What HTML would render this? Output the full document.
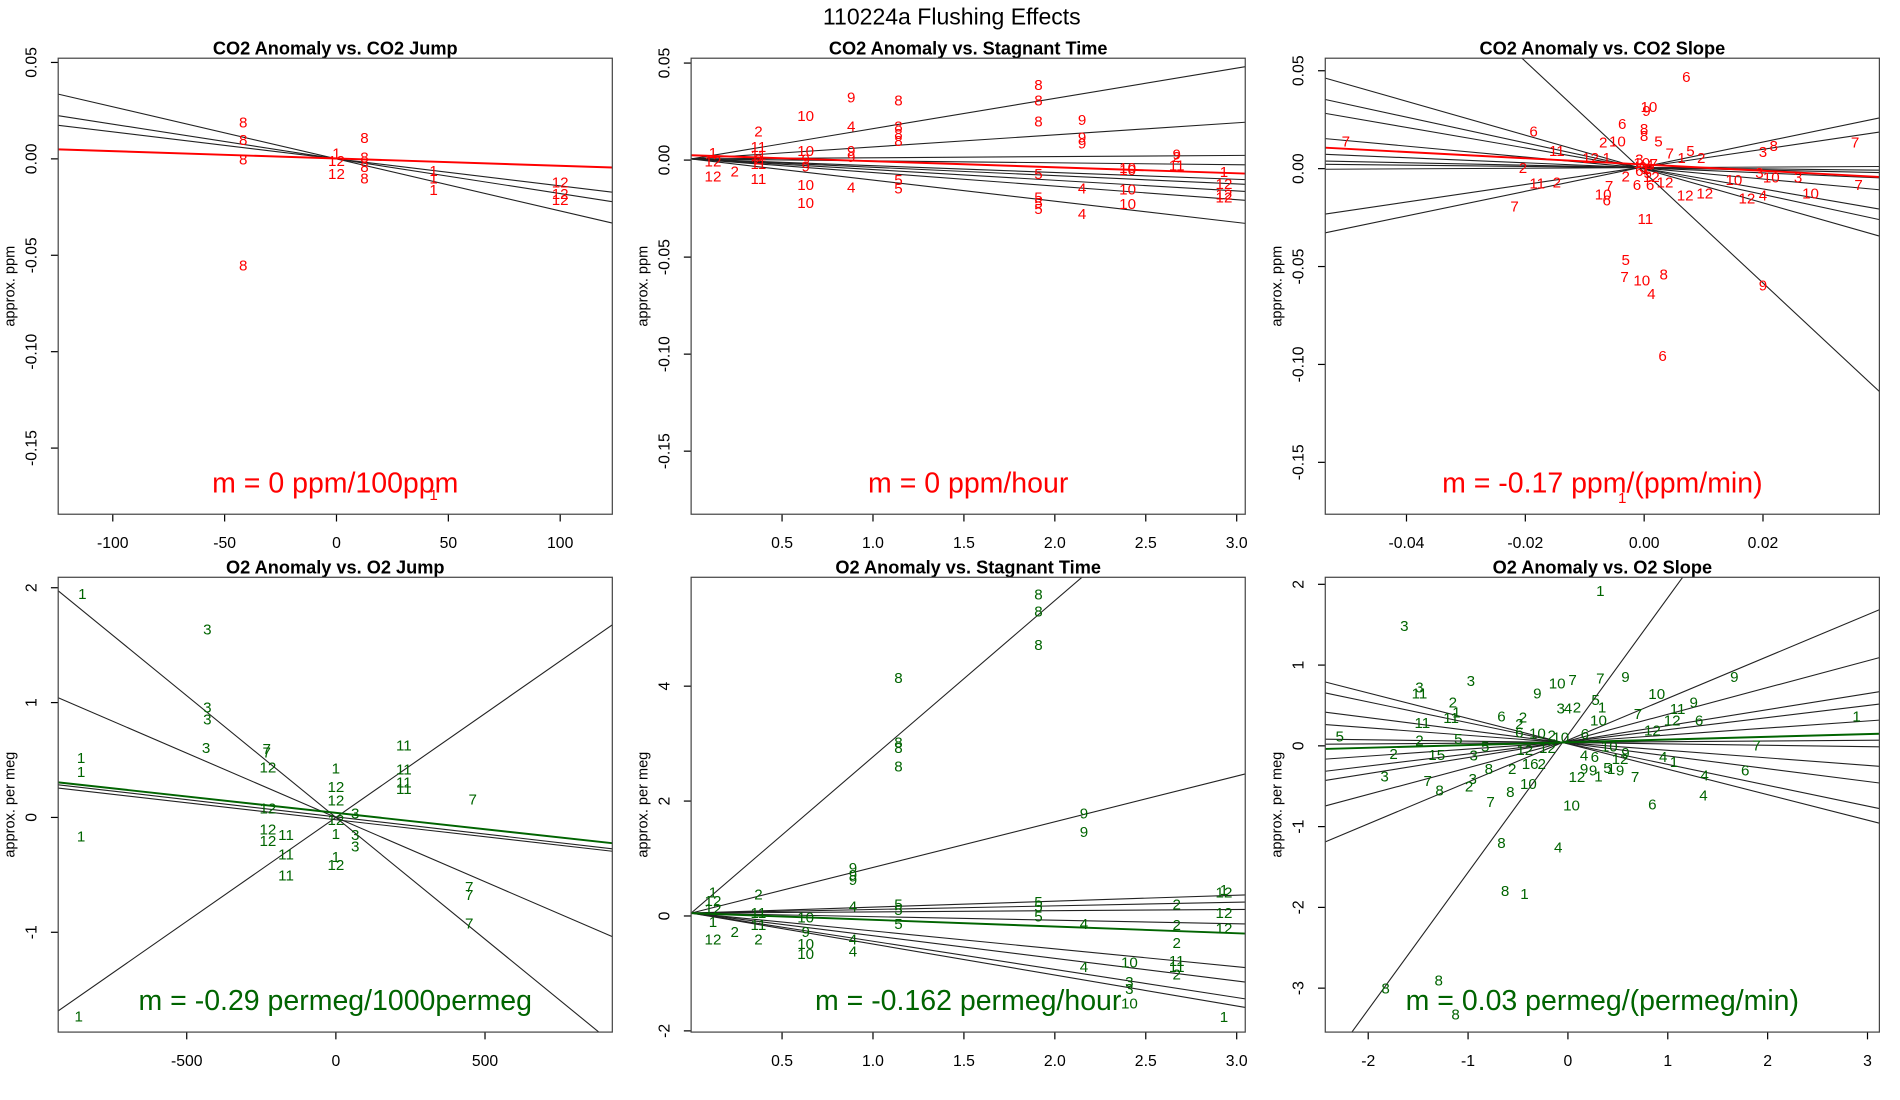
<!DOCTYPE html>
<html><head><meta charset="utf-8"><title>110224a Flushing Effects</title>
<style>
html,body{margin:0;padding:0;background:#fff;}
svg{display:block;font-family:"Liberation Sans",Arial,sans-serif;}
</style></head>
<body>
<svg id="fig" width="1900" height="1100" viewBox="0 0 1567 907" preserveAspectRatio="none" xmlns="http://www.w3.org/2000/svg">
<rect x="0" y="0" width="1567" height="907" fill="#fff"/>
<text x="785" y="20" text-anchor="middle" font-size="19">110224a   Flushing Effects</text>
</svg>
<script>
// ---------- Panel 1: CO2 Anomaly vs CO2 Jump ----------
const p1Labels=["8","8","8","8","8","1","12","12","8","8","8","1","1","1","12","12","12","1"];
const p1X=[-41.7,-41.7,-41.7,-41.7,12.5,0,0,0,12.5,12.5,12.5,43.4,43.4,43.4,100,100,100,43.4];
const p1Y=[0.019,0.010,0.0,-0.055,0.011,0.003,-0.001,-0.0075,0.001,-0.004,-0.010,-0.006,-0.010,-0.016,-0.012,-0.018,-0.021,-0.174];
const p1Slopes=[-0.00027,-0.00018,-0.00014];
const p1Intercepts=[0,0,0];
const p1FitSlope=[-0.000038];
const p1FitIntercept=[0.0002];
const p1XTicks=[-100,-50,0,50,100];
const p1YTicks=[0.05,0,-0.05,-0.10,-0.15];
const p1YTickLabels=["0.05","0.00","-0.05","-0.10","-0.15"];

// ---------- Panel 2: CO2 Anomaly vs Stagnant Time ----------
const p2Labels=["1","12","12","2","2","11","11","2","11","11","10","10","9","9","10","10","9","4","9","9","4","8","8","8","8","5","5","8","8","8","5","5","5","5","9","9","9","4","4","10","10","10","10","9","2","11","1","12","12","12"];
const p2X=[0.12,0.12,0.12,0.24,0.37,0.37,0.37,0.37,0.37,0.37,0.63,0.63,0.63,0.63,0.63,0.63,0.88,0.88,0.88,0.88,0.88,1.14,1.14,1.14,1.14,1.14,1.14,1.91,1.91,1.91,1.91,1.91,1.91,1.91,2.15,2.15,2.15,2.15,2.15,2.4,2.4,2.4,2.4,2.67,2.67,2.67,2.93,2.93,2.93,2.93];
const p2Y=[0.0038,-0.0006,-0.0081,-0.0056,0.015,0.0069,0.0025,0.0006,-0.0019,-0.0094,0.023,0.005,0.0006,-0.003,-0.0125,-0.022,0.0325,0.0175,0.005,0.0019,-0.0138,0.031,0.0175,0.0138,0.01,-0.01,-0.0144,0.039,0.031,0.02,-0.0069,-0.019,-0.022,-0.025,0.021,0.012,0.0088,-0.0144,-0.0275,-0.0038,-0.005,-0.015,-0.0225,0.003,0.0019,-0.0025,-0.006,-0.012,-0.0175,-0.019];
const p2Slopes=[0.0156,0.0062,0.0006,-0.001,-0.0035,-0.0043,-0.0055,-0.007,-0.0109];
const p2Intercepts=[0.0006,0.0006,0.0006,0.0006,0.0006,0.0006,0.0006,0.0006,0.0006];
const p2FitSlope=[-0.0031];
const p2FitIntercept=[0.0025];
const p2XTicks=[0.5,1.0,1.5,2.0,2.5,3.0];
const p2XTickLabels=["0.5","1.0","1.5","2.0","2.5","3.0"];

// ---------- Panel 3: CO2 Anomaly vs CO2 Slope ----------
const p3Labels=["6","10","9","6","6","8","5","2","10","11","5","7","1","2","3","8","7","7","2","3","10","3","10","12","1","3","7","2","6","6","12","12","12","12","4","10","7","11","2","7","10","6","7","11","5","7","10","8","4","9","6","1","8","9","5","10","12","1","6","4"];
const p3X=[0.0071,0.0008,0.0004,-0.0037,-0.0186,0,0.0024,-0.0069,-0.0045,-0.0147,0.0078,0.0043,0.0063,0.0096,0.02,0.0218,0.0355,-0.0502,-0.0204,0.0194,0.0214,0.0259,0.0151,-0.009,-0.0063,-0.0008,0.0016,-0.0031,-0.0012,0.001,0.0035,0.0069,0.0102,0.0173,0.02,0.028,0.0361,-0.018,-0.0147,-0.0059,-0.0069,-0.0063,-0.0218,0.0002,-0.0031,-0.0033,-0.0004,0.0033,0.0012,0.02,0.0031,-0.0037,0.0,-0.0002,0.0006,-0.0004,0.0012,0.0003,-0.0008,0.0009];
const p3Y=[0.047,0.0316,0.0297,0.0229,0.0192,0.0204,0.0142,0.0136,0.0142,0.0093,0.0093,0.008,0.0056,0.0056,0.0087,0.0118,0.0136,0.0142,0.0006,-0.0019,-0.0043,-0.0043,-0.0056,0.0056,0.0056,0.005,0.0025,-0.0037,-0.008,-0.008,-0.0068,-0.0136,-0.0124,-0.0149,-0.0136,-0.0124,-0.008,-0.0074,-0.0068,-0.0087,-0.013,-0.0161,-0.0192,-0.0254,-0.0464,-0.0551,-0.057,-0.0539,-0.0638,-0.0594,-0.0954,-0.168,0.017,0.001,-0.002,0.003,-0.004,0.0,-0.001,0.002];
const p3Slopes=[-0.865,-0.658,-0.524,-0.280,-0.129,-0.063,-0.032,0.015,0.449,0.629,-2.83];
const p3Intercepts=[-0.0002,0.0,0.0001,0.0003,0.0004,0.0005,0.0005,0.0005,0.0009,0.001,-0.0018];
const p3FitSlope=[-0.16];
const p3FitIntercept=[0.0021];
const p3XTicks=[-0.04,-0.02,0,0.02];
const p3XTickLabels=["-0.04","-0.02","0.00","0.02"];

// ---------- Panel 4: O2 Anomaly vs O2 Jump ----------
const p4Labels=["1","3","3","3","3","1","1","1","1","7","7","12","12","12","12","11","11","11","1","12","12","12","1","3","3","3","1","12","11","11","11","11","7","7","7","7"];
const p4X=[-850,-431,-431,-431,-435,-854,-854,-854,-862,-232,-232,-228,-228,-228,-228,-167,-167,-167,0,0,0,0,0,65,65,65,0,0,228,228,228,228,459,447,447,447];
const p4Y=[1.95,1.64,0.96,0.855,0.61,0.52,0.40,-0.16,-1.73,0.60,0.57,0.44,0.08,-0.10,-0.20,-0.15,-0.32,-0.50,0.43,0.27,0.15,-0.02,-0.14,0.04,-0.15,-0.25,-0.34,-0.41,0.63,0.42,0.31,0.25,0.16,-0.60,-0.67,-0.92];
const p4Slopes=[-0.00212,-0.00112,0.00181,-0.0003,-0.000296];
const p4Intercepts=[0,0,0,0.005,-0.02];
const p4FitSlope=[-0.000285];
const p4FitIntercept=[0.04];
const p4XTicks=[-500,0,500];
const p4YTicks=[2,1,0,-1];

// ---------- Panel 5: O2 Anomaly vs Stagnant Time ----------
const p5Labels=["8","8","8","8","8","8","8","9","9","9","4","2","1","12","12","5","5","5","5","5","5","9","9","4","2","2","2","1","12","12","12","10","9","10","10","4","4","11","11","2","2","12","1","4","10","3","3","10","11","11","2","1"];
const p5X=[1.91,1.91,1.91,1.14,1.14,1.14,1.14,0.89,0.89,0.89,0.89,0.37,0.12,0.12,0.12,1.14,1.14,1.14,1.91,1.91,1.91,2.16,2.16,2.16,2.67,2.67,2.67,2.93,2.93,2.93,2.93,0.63,0.63,0.63,0.63,0.89,0.89,0.37,0.37,0.37,0.24,0.12,0.12,2.16,2.41,2.41,2.41,2.41,2.67,2.67,2.67,2.93];
const p5Y=[5.6,5.31,4.72,4.15,3.03,2.93,2.61,0.84,0.72,0.63,0.17,0.38,0.42,0.27,0.13,0.21,0.11,-0.13,0.25,0.17,0,1.79,1.47,-0.13,0.21,-0.15,-0.46,0.46,0.42,0.06,-0.21,-0.02,-0.27,-0.48,-0.65,-0.4,-0.61,0.06,-0.15,-0.4,-0.27,-0.4,-0.1,-0.88,-0.8,-1.14,-1.26,-1.52,-0.78,-0.88,-1.01,-1.75];
const p5Slopes=[2.72,0.795,0.104,0.063,0.021,-0.062,-0.311,-0.394,-0.49,-0.539];
const p5Intercepts=[0.05,0.05,0.05,0.05,0.05,0.05,0.05,0.05,0.05,0.05];
const p5FitSlope=[-0.117];
const p5FitIntercept=[0.05];
const p5YTicks=[4,2,0,-2];

// ---------- Panel 6: O2 Anomaly vs O2 Slope ----------
const p6Labels=["1","3","3","11","3","9","10","7","7","9","2","1","11","11","6","2","2","3","4","2","5","1","10","10","7","11","9","12","6","12","9","1","5","2","5","6","10","2","10","6","5","12","12","10","9","2","15","3","4","6","12","4","1","7","8","2","16","2","9","9","1","5","1","9","3","7","8","2","3","8","10","12","7","4","6","7","10","6","4","8","4","8","1","8","8","8"];
const p6X=[0.324,-1.638,-1.487,-1.487,-0.972,-0.306,-0.108,0.047,0.324,0.576,-1.152,-1.116,-1.17,-1.458,-0.666,-0.45,-0.486,-0.072,0.0,0.09,0.277,0.342,0.306,0.889,0.702,1.098,1.26,1.044,1.314,0.846,1.667,2.891,-2.286,-1.487,-1.098,-0.486,-0.306,-0.162,-0.072,0.169,-0.828,-0.432,-0.205,0.414,0.576,-1.746,-1.314,-0.943,0.162,0.27,0.522,0.954,1.062,1.89,-0.792,-0.558,-0.378,-0.263,0.162,0.252,0.306,0.396,0.432,0.522,-1.836,-1.404,-1.285,-0.99,-0.954,-0.576,-0.396,0.09,0.673,1.368,1.775,-0.774,0.036,0.846,1.357,-0.665,-0.097,-0.629,-0.435,-1.826,-1.294,-1.125];
const p6Y=[1.92,1.488,0.728,0.654,0.81,0.654,0.777,0.818,0.839,0.859,0.543,0.419,0.35,0.288,0.366,0.358,0.276,0.469,0.469,0.481,0.572,0.481,0.317,0.646,0.399,0.461,0.543,0.317,0.317,0.193,0.859,0.366,0.119,0.07,0.091,0.173,0.161,0.132,0.111,0.152,-0.004,-0.045,-0.02,-0.004,-0.086,-0.094,-0.107,-0.115,-0.115,-0.135,-0.156,-0.135,-0.197,0.008,-0.279,-0.279,-0.218,-0.218,-0.279,-0.3,-0.374,-0.267,-0.279,-0.3,-0.374,-0.431,-0.546,-0.497,-0.403,-0.567,-0.464,-0.382,-0.382,-0.361,-0.3,-0.69,-0.731,-0.723,-0.608,-1.2,-1.25,-1.79,-1.83,-3.0,-2.9,-3.32];
const p6Slopes=[0.518,0.331,0.198,0.150,0.087,0.009,-0.017,-0.093,-0.158,-0.258,-0.315,1.70];
const p6Intercepts=[0.070,0.060,0.053,0.050,0.047,0.042,0.041,0.037,0.033,0.028,0.025,0.134];
const p6FitSlope=[0.034];
const p6FitIntercept=[0.044];
const p6XTicks=[-2,-1,0,1,2,3];
const p6YTicks=[2,1,0,-1,-2,-3];

const NS="http://www.w3.org/2000/svg";
const svg=document.getElementById('fig');
function mk(tag,attrs,parent){const e=document.createElementNS(NS,tag);for(const k in attrs)e.setAttribute(k,attrs[k]);(parent||svg).appendChild(e);return e;}

function panel(cfg){
  const g=mk('g',{});
  
  
  const L=cfg.box[0],R=cfg.box[1],T=cfg.box[2],B=cfg.box[3];
  const sx=v=>L+(v-cfg.xr[0])/(cfg.xr[1]-cfg.xr[0])*(R-L);
  const sy=v=>B-(v-cfg.yr[0])/(cfg.yr[1]-cfg.yr[0])*(B-T);
  const cid='clip-'+cfg.name;
  const cp=mk('clipPath',{id:cid},g);mk('rect',{x:L,y:T,width:R-L,height:B-T},cp);
  const tt=mk('text',{x:(L+R)/2,y:T-3,'text-anchor':'middle','font-size':15,'font-weight':'bold'},g);
  tt.textContent=cfg.title;
  
  
  const yl=mk('text',{transform:`translate(${L-36},${(T+B)/2}) rotate(-90)`,'text-anchor':'middle','font-size':12},g);
  yl.textContent=cfg.ylab;
  
  
  cfg.xt.forEach((v,i)=>{
    const x=sx(v);
    const tk=mk('line',{x1:x,x2:x,y1:B,y2:B+6,stroke:'#000','stroke-width':1},g);
    
    
    const t=mk('text',{x:x,y:B+28,'text-anchor':'middle','font-size':13},g);
    t.textContent=cfg.xtl?cfg.xtl[i]:String(v);
    
    
  });
  cfg.yt.forEach((v,i)=>{
    const y=sy(v);
    const tk=mk('line',{x1:L-6,x2:L,y1:y,y2:y,stroke:'#000','stroke-width':1},g);
    
    
    const t=mk('text',{transform:`translate(${L-18},${y}) rotate(-90)`,'text-anchor':'middle','font-size':13},g);
    t.textContent=cfg.ytl?cfg.ytl[i]:String(v);
    
    
  });
  const cg=mk('g',{'clip-path':`url(#${cid})`},g);
  cfg.slopes.forEach((m,i)=>{
    const a=cfg.ints[i];
    const ln=mk('line',{x1:sx(cfg.xr[0]),y1:sy(a+m*cfg.xr[0]),x2:sx(cfg.xr[1]),y2:sy(a+m*cfg.xr[1]),stroke:'#222','stroke-width':0.9},cg);
    
    
  });
  cfg.labels.forEach((lab,i)=>{
    const t=mk('text',{x:sx(cfg.xs[i]),y:sy(cfg.ys[i])+4.5,'text-anchor':'middle','font-size':12.5,fill:cfg.col},cg);
    t.textContent=lab;
    
    
  });
  cfg.fs.forEach((m,i)=>{
    const a=cfg.fi[i];
    const ln=mk('line',{x1:sx(cfg.xr[0]),y1:sy(a+m*cfg.xr[0]),x2:sx(cfg.xr[1]),y2:sy(a+m*cfg.xr[1]),stroke:cfg.col,'stroke-width':1.6},cg);
    
    
  });
  const mt=mk('text',{x:(L+R)/2,y:B-18,'text-anchor':'middle','font-size':23.5,fill:cfg.col},g);
  mt.textContent=cfg.mtext;
  
  
  const bx=mk('rect',{x:L,y:T,width:R-L,height:B-T,fill:'none',stroke:'#444','stroke-width':1},g);
  
  
}

const RED='#ff0000',GRN='#006400';
const r1=[48,424],r2=[476,851];
const c1=[48,505],c2=[570,1027],c3=[1093,1550];
panel({name:'co2-jump-panel',title:'CO2 Anomaly vs. CO2 Jump',ylab:'approx. ppm',box:[c1[0],c1[1],r1[0],r1[1]],
  xr:[-124.4,123.3],yr:[-0.1843,0.0522],xt:p1XTicks,yt:p1YTicks,ytl:p1YTickLabels,
  labels:p1Labels,xs:p1X,ys:p1Y,slopes:p1Slopes,ints:p1Intercepts,fs:p1FitSlope,fi:p1FitIntercept,col:RED,mtext:'m = 0 ppm/100ppm'});
panel({name:'co2-stagnant-panel',title:'CO2 Anomaly vs. Stagnant Time',ylab:'approx. ppm',box:[c2[0],c2[1],r1[0],r1[1]],
  xr:[0,3.047],yr:[-0.1825,0.0525],xt:p2XTicks,xtl:p2XTickLabels,yt:p1YTicks,ytl:p1YTickLabels,
  labels:p2Labels,xs:p2X,ys:p2Y,slopes:p2Slopes,ints:p2Intercepts,fs:p2FitSlope,fi:p2FitIntercept,col:RED,mtext:'m = 0 ppm/hour'});
panel({name:'co2-slope-panel',title:'CO2 Anomaly vs. CO2 Slope',ylab:'approx. ppm',box:[c3[0],c3[1],r1[0],r1[1]],
  xr:[-0.05367,0.03959],yr:[-0.1765,0.0564],xt:p3XTicks,xtl:p3XTickLabels,yt:p1YTicks,ytl:p1YTickLabels,
  labels:p3Labels,xs:p3X,ys:p3Y,slopes:p3Slopes,ints:p3Intercepts,fs:p3FitSlope,fi:p3FitIntercept,col:RED,mtext:'m = -0.17 ppm/(ppm/min)'});
panel({name:'o2-jump-panel',title:'O2 Anomaly vs. O2 Jump',ylab:'approx. per meg',box:[c1[0],c1[1],r2[0],r2[1]],
  xr:[-930.9,926.8],yr:[-1.869,2.091],xt:p4XTicks,yt:p4YTicks,
  labels:p4Labels,xs:p4X,ys:p4Y,slopes:p4Slopes,ints:p4Intercepts,fs:p4FitSlope,fi:p4FitIntercept,col:GRN,mtext:'m = -0.29 permeg/1000permeg'});
panel({name:'o2-stagnant-panel',title:'O2 Anomaly vs. Stagnant Time',ylab:'approx. per meg',box:[c2[0],c2[1],r2[0],r2[1]],
  xr:[0,3.047],yr:[-2.021,5.895],xt:p2XTicks,xtl:p2XTickLabels,yt:p5YTicks,
  labels:p5Labels,xs:p5X,ys:p5Y,slopes:p5Slopes,ints:p5Intercepts,fs:p5FitSlope,fi:p5FitIntercept,col:GRN,mtext:'m = -0.162 permeg/hour'});
panel({name:'o2-slope-panel',title:'O2 Anomaly vs. O2 Slope',ylab:'approx. per meg',box:[c3[0],c3[1],r2[0],r2[1]],
  xr:[-2.430,3.119],yr:[-3.544,2.087],xt:p6XTicks,yt:p6YTicks,
  labels:p6Labels,xs:p6X,ys:p6Y,slopes:p6Slopes,ints:p6Intercepts,fs:p6FitSlope,fi:p6FitIntercept,col:GRN,mtext:'m = 0.03 permeg/(permeg/min)'});
</script>
</body></html>
